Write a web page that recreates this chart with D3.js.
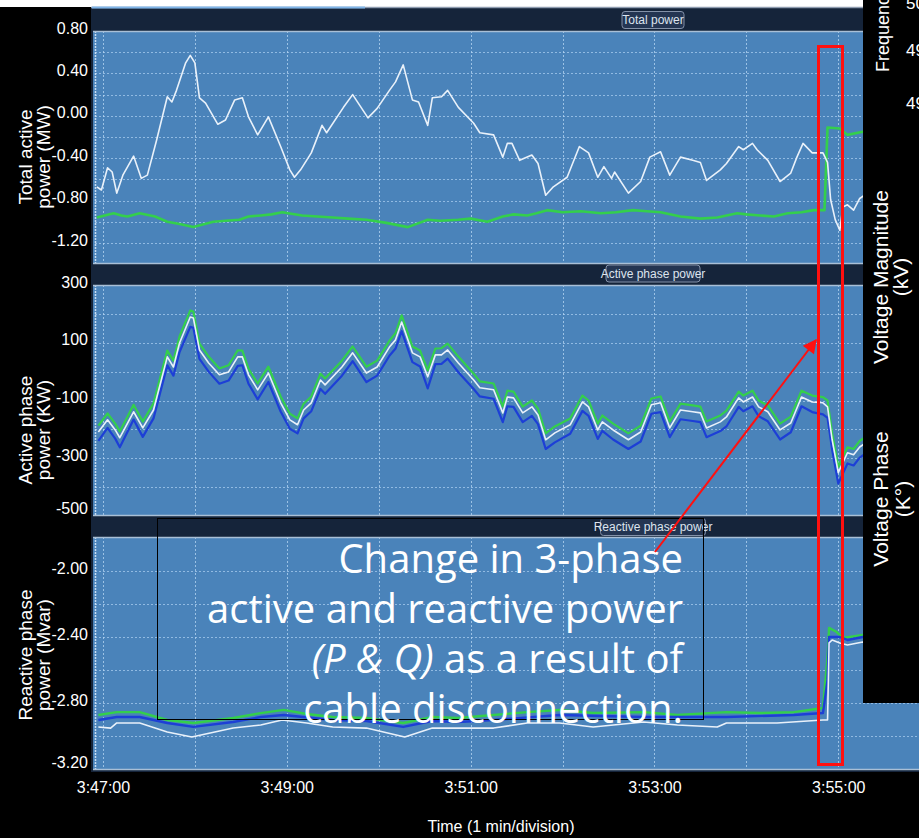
<!DOCTYPE html>
<html><head><meta charset="utf-8">
<script src="https://cdn.jsdelivr.net/npm/d3@7"></script>
<style>body{margin:0;background:#000}svg{display:block}</style>
</head><body>
<svg id="c" width="919" height="838"></svg>
<script>
// ---------------- DATA (time in seconds after 3:47:00) ----------------
const timeTickLabels = ["3:47:00","3:49:00","3:51:00","3:53:00","3:55:00"];
const gridMinutes = [0,1,2,3,4,5,6,7,8];

const totalTicks = [0.8,0.4,0,-0.4,-0.8,-1.2];
const activeTicks = [300,100,-100,-300,-500];
const reactiveTicks = [-2.0,-2.4,-2.8,-3.2];

// Total active power (MW)
const totalWhite = [[-4,-0.67],[-1,-0.70],[3,-0.49],[6,-0.53],[9,-0.73],[13,-0.56],[20,-0.38],[25,-0.59],[29,-0.56],[35,-0.23],
 [42,0.18],[45,0.13],[48,0.24],[54,0.50],[57,0.57],[60,0.50],[63,0.17],[67,0.12],[75,-0.08],[80,-0.04],
 [86,0.15],[91,0.17],[95,-0.01],[101,-0.18],[108,-0.01],[116,-0.29],[122,-0.51],[125,-0.58],[129,-0.51],[136,-0.35],
 [143,-0.09],[146,-0.16],[157,0.08],[163,0.20],[173,-0.02],[179,0.07],[187,0.24],[191,0.32],[196,0.48],[202,0.15],
 [206,0.13],[212,-0.09],[215,0.17],[221,0.18],[225,0.24],[232,0.08],[242,-0.07],[246,-0.16],[255,-0.18],[261,-0.39],
 [264,-0.26],[267,-0.26],[272,-0.42],[280,-0.37],[284,-0.45],[289,-0.75],[294,-0.67],[303,-0.58],[311,-0.29],[317,-0.35],
 [323,-0.58],[327,-0.48],[332,-0.59],[334,-0.53],[343,-0.73],[351,-0.62],[357,-0.39],[364,-0.34],[370,-0.56],[377,-0.39],
 [385,-0.42],[390,-0.44],[394,-0.61],[403,-0.51],[407,-0.45],[415,-0.29],[418,-0.32],[424,-0.26],[427,-0.32],[434,-0.42],
 [442,-0.62],[449,-0.54],[453,-0.39],[457,-0.26],[463,-0.35],[470,-0.35],[473,-0.44],[475,-0.79],[478,-0.98],[481,-1.08],
 [483,-0.86],[486,-0.84],[490,-0.89],[494,-0.78],[500,-0.72]];
const totalGreen = [[-4,-0.96],[7,-0.92],[12,-0.94],[16,-0.95],[24,-0.92],[34,-0.95],[42,-1.00],[50,-1.02],[59,-1.05],[72,-1.00],
 [80,-0.99],[89,-0.98],[95,-0.95],[103,-0.94],[110,-0.93],[117,-0.91],[130,-0.94],[140,-0.95],[150,-0.96],[160,-0.97],
 [172,-0.98],[185,-1.01],[199,-1.05],[212,-0.98],[220,-0.99],[232,-0.98],[240,-0.97],[251,-1.00],[261,-0.95],[268,-0.93],
 [277,-0.94],[283,-0.92],[290,-0.89],[300,-0.91],[312,-0.90],[325,-0.92],[335,-0.91],[346,-0.89],[355,-0.90],[364,-0.91],
 [377,-0.95],[390,-0.97],[401,-0.96],[414,-0.92],[420,-0.93],[429,-0.94],[438,-0.95],[447,-0.92],[456,-0.91],[464,-0.89],
 [471,-0.89],[473,-0.11],[481,-0.12],[486,-0.18],[496,-0.15],[501,-0.13]];

// Active phase power (KW)
const activeWhite = [[-3,-209],[3,-167],[8,-202],[11,-229],[20,-139],[26,-195],[33,-133],[42,51],[46,16],[50,99],
 [57,189],[59,186],[63,75],[69,30],[76,-11],[82,-1],[88,51],[91,51],[95,-11],[101,-63],
 [108,-5],[116,-108],[122,-167],[127,-184],[131,-133],[136,-108],[142,-29],[145,-46],[156,16],[163,65],
 [172,-5],[179,16],[187,85],[191,110],[195,172],[202,65],[207,51],[212,-18],[217,58],[221,58],
 [225,75],[232,30],[242,-29],[246,-56],[255,-63],[261,-143],[264,-88],[268,-91],[274,-143],[280,-122],
 [284,-150],[289,-236],[295,-212],[305,-184],[313,-105],[317,-122],[323,-202],[326,-174],[333,-202],[343,-236],
 [351,-209],[358,-115],[364,-108],[370,-195],[377,-133],[385,-139],[390,-143],[394,-195],[403,-174],[407,-157],
 [415,-91],[418,-105],[424,-88],[428,-122],[434,-139],[442,-202],[449,-178],[456,-88],[463,-105],[470,-108],
 [473,-122],[476,-236],[480,-350],[486,-281],[490,-288],[494,-261],[501,-236]];
const activeGreen = [[-3,-187],[3,-145],[8,-180],[11,-207],[20,-115],[26,-173],[33,-110],[42,73],[46,38],[50,122],
 [57,212],[59,208],[63,97],[69,52],[76,11],[82,22],[88,74],[91,73],[95,10],[101,-41],
 [108,17],[116,-86],[122,-146],[127,-162],[131,-111],[136,-86],[142,-7],[145,-24],[156,38],[163,87],
 [172,17],[179,38],[187,107],[191,133],[195,195],[202,87],[207,73],[212,4],[217,80],[221,81],
 [225,97],[232,52],[242,-7],[246,-34],[255,-41],[261,-121],[264,-66],[268,-69],[274,-121],[280,-100],
 [284,-128],[289,-214],[295,-190],[305,-162],[313,-83],[317,-100],[323,-180],[326,-152],[333,-180],[343,-214],
 [351,-187],[358,-93],[364,-86],[370,-173],[377,-111],[385,-117],[390,-121],[394,-173],[403,-152],[407,-135],
 [415,-69],[418,-83],[424,-66],[428,-100],[434,-117],[442,-180],[449,-156],[456,-66],[463,-83],[470,-88],
 [473,-100],[476,-214],[480,-330],[486,-262],[490,-268],[494,-240],[501,-215]];
const activeBlue = [[-3,-240],[3,-195],[8,-232],[11,-262],[20,-166],[26,-226],[33,-162],[42,22],[46,-14],[50,68],
 [57,155],[59,152],[63,44],[69,0],[76,-42],[82,-31],[88,20],[91,22],[95,-42],[101,-96],
 [108,-36],[116,-138],[122,-198],[127,-214],[131,-162],[136,-137],[142,-60],[145,-77],[156,-14],[163,36],
 [172,-36],[179,-14],[187,55],[191,80],[195,140],[202,33],[207,18],[212,-58],[217,26],[221,27],
 [225,45],[232,-2],[242,-60],[246,-86],[255,-94],[261,-175],[264,-120],[268,-122],[274,-175],[280,-153],
 [284,-182],[289,-268],[295,-245],[305,-215],[313,-136],[317,-153],[323,-233],[326,-205],[333,-235],[343,-268],
 [351,-242],[358,-146],[364,-140],[370,-227],[377,-165],[385,-171],[390,-175],[394,-227],[403,-206],[407,-190],
 [415,-122],[418,-137],[424,-120],[428,-154],[434,-172],[442,-235],[449,-210],[456,-120],[463,-140],[470,-148],
 [473,-160],[476,-270],[480,-388],[486,-318],[490,-325],[494,-298],[501,-272]];

// Reactive phase power (Mvar)
const reactiveGreen = [[-3,-2.873],[9,-2.855],[24,-2.855],[42,-2.903],[59,-2.921],[85,-2.891],[103,-2.861],[118,-2.842],[133,-2.867],[150,-2.885],
 [172,-2.891],[196,-2.921],[215,-2.885],[232,-2.891],[255,-2.873],[277,-2.855],[298,-2.842],[320,-2.861],[353,-2.855],[375,-2.873],
 [407,-2.855],[429,-2.861],[451,-2.855],[470,-2.830],[473,-2.521],[474,-2.345],[479,-2.370],[483,-2.406],[496,-2.388],[533,-2.380]];
const reactiveBlue = [[-3,-2.903],[9,-2.885],[24,-2.885],[42,-2.921],[59,-2.945],[85,-2.915],[103,-2.885],[118,-2.873],[150,-2.903],[172,-2.909],
 [196,-2.945],[215,-2.909],[232,-2.915],[255,-2.903],[298,-2.873],[353,-2.885],[407,-2.885],[451,-2.873],[470,-2.861],[473,-2.660],
 [474,-2.400],[481,-2.400],[486,-2.418],[496,-2.400],[533,-2.394]];
const reactiveWhite = [[-3,-2.945],[5,-2.952],[9,-2.921],[24,-2.921],[42,-2.976],[58,-3.006],[85,-2.952],[103,-2.933],[117,-2.903],[133,-2.921],
 [150,-2.945],[172,-2.952],[197,-3.006],[215,-2.952],[232,-2.952],[255,-2.952],[277,-2.921],[298,-2.921],[320,-2.945],[353,-2.915],
 [375,-2.933],[401,-2.945],[407,-2.921],[440,-2.921],[470,-2.903],[473,-2.903],[474,-2.436],[476,-2.418],[481,-2.436],[486,-2.448],
 [496,-2.430],[533,-2.440]];

// ---------------- DRAWING ----------------
const W = 919, H = 838;
const svg = d3.select("#c");
const toSec = s => { const [h,m,ss] = s.split(":").map(Number); return h*3600+m*60+ss; };
const base = toSec(timeTickLabels[0]);
const tickSec = timeTickLabels.map(s => toSec(s) - base);

const x = d3.scaleLinear().domain([-6.5, 532.7]).range([93, 919]);

const WHITE = "#e9f1fa", GREEN = "#34cf4c", BLUE = "#1d3fd6";
const PLOT_BG = "#4a83ba", FRAME = "#15243a";

svg.append("rect").attr("width", W).attr("height", H).attr("fill", "#000");
svg.append("rect").attr("x", 0).attr("y", 0).attr("width", 863).attr("height", 7).attr("fill", "#fff");
svg.append("rect").attr("x", 91).attr("y", 7).attr("width", W - 91).attr("height", 765).attr("fill", FRAME);
svg.append("line").attr("x1", 91).attr("x2", 863).attr("y1", 7.5).attr("y2", 7.5).attr("stroke", "#8e9cb0").attr("stroke-width", 1.5);
svg.append("line").attr("x1", 92).attr("x2", 365).attr("y1", 7.5).attr("y2", 7.5).attr("stroke", "#7fb4e8").attr("stroke-width", 2);

const panels = [
  {id:"p1", top:31, bottom:264, domain:[-1.2,0.8], range:[243,31], ticks:totalTicks, fmt:d=>d.toFixed(2), minor:0.2,
   label:["Total active","power (MW)"], labelY:157, title:"Total power", titleY:20, titleW:62,
   series:[[totalGreen,GREEN,2.6],[totalWhite,WHITE,1.6]]},
  {id:"p2", top:285, bottom:516, domain:[-500,300], range:[516,285], ticks:activeTicks, fmt:d=>String(d), minor:100,
   label:["Active phase","power (KW)"], labelY:430, title:"Active phase power", titleY:273.5, titleW:94,
   series:[[activeGreen,GREEN,2.2],[activeBlue,BLUE,2.2],[activeWhite,WHITE,1.6]]},
  {id:"p3", top:537, bottom:770, domain:[-3.2,-2.0], range:[769,571], ticks:reactiveTicks, fmt:d=>d.toFixed(2), minor:0.2,
   label:["Reactive phase","power (Mvar)"], labelY:655, title:"Reactive phase power", titleY:527, titleW:105,
   series:[[reactiveGreen,GREEN,2.4],[reactiveBlue,BLUE,2.4],[reactiveWhite,WHITE,1.6]]}
];

const defs = svg.append("defs");

panels.forEach(p => {
  const y = d3.scaleLinear().domain(p.domain).range(p.range);
  const g = svg.append("g");
  defs.append("clipPath").attr("id", "clip-" + p.id)
    .append("rect").attr("x", 93).attr("y", p.top).attr("width", W - 93).attr("height", p.bottom - p.top);
  g.append("rect").attr("x", 93).attr("y", p.top).attr("width", W - 93).attr("height", p.bottom - p.top).attr("fill", PLOT_BG);

  // horizontal dotted grid
  const lo = p.domain[0], hi = y.invert(p.top);
  const gridVals = [];
  for (let v = lo - p.minor*3; v <= hi + 1e-9; v += p.minor) {
    const yy = y(v);
    if (yy > p.top + 2 && yy < p.bottom - 2) gridVals.push(v);
  }
  g.selectAll(".hg").data(gridVals).join("line")
    .attr("x1", 95).attr("x2", W).attr("y1", d => Math.round(y(d)) + 0.5).attr("y2", d => Math.round(y(d)) + 0.5)
    .attr("stroke", "#a9cdf0").attr("stroke-width", 1).attr("stroke-dasharray", "2,2").attr("opacity", 0.75);
  // vertical dotted grid (each minute)
  g.selectAll(".vg").data(gridMinutes).join("line")
    .attr("x1", d => Math.round(x(d*60)) + 0.5).attr("x2", d => Math.round(x(d*60)) + 0.5)
    .attr("y1", p.top).attr("y2", p.bottom)
    .attr("stroke", "#b8d7f4").attr("stroke-width", 1).attr("stroke-dasharray", "2,2").attr("opacity", 0.75);
  g.append("line").attr("x1", 95.5).attr("x2", 95.5).attr("y1", p.top).attr("y2", p.bottom)
    .attr("stroke", "#c6dcf2").attr("stroke-width", 1.5).attr("stroke-dasharray", "2,1");
  // borders
  g.append("line").attr("x1", 93).attr("x2", W).attr("y1", p.top + 0.5).attr("y2", p.top + 0.5).attr("stroke", "#a9bfd6").attr("stroke-width", 1.5);
  g.append("line").attr("x1", 93).attr("x2", W).attr("y1", p.bottom - 0.5).attr("y2", p.bottom - 0.5).attr("stroke", "#a9bfd6").attr("stroke-width", 1.5);

  // series
  const line = d3.line().x(d => x(d[0])).y(d => y(d[1]));
  const sg = g.append("g").attr("clip-path", `url(#clip-${p.id})`);
  p.series.forEach(([data, color, w]) => {
    sg.append("path").attr("d", line(data)).attr("fill", "none").attr("stroke", color)
      .attr("stroke-width", w).attr("stroke-linejoin", "round");
  });

  // y axis
  const ax = svg.append("g").attr("transform", "translate(91,0)")
    .call(d3.axisLeft(y).tickValues(p.ticks).tickFormat(p.fmt).tickSize(0).tickPadding(3));
  ax.select(".domain").remove();
  ax.selectAll("text").attr("fill", "#fff").attr("font-family", "Liberation Sans, Arial, sans-serif")
    .attr("font-size", 16).attr("dy", "0.32em")
    .attr("y", d => { const yy = y(d) - 3; const c = Math.min(yy, p.bottom - 8); return c - y(d); });

  // y label
  const lt = svg.append("text").attr("transform", `translate(0,${p.labelY}) rotate(-90)`)
    .attr("text-anchor", "middle").attr("fill", "#fff")
    .attr("font-family", "Liberation Sans, Arial, sans-serif").attr("font-size", 19);
  lt.append("tspan").attr("x", 0).attr("y", 32).text(p.label[0]);
  lt.append("tspan").attr("x", 0).attr("y", 50).text(p.label[1]);

  // title tag
  const tg = svg.append("g").attr("transform", `translate(653,${p.titleY})`);
  tg.append("rect").attr("x", -p.titleW/2).attr("y", -8.5).attr("width", p.titleW).attr("height", 17).attr("rx", 3)
    .attr("fill", "#243552").attr("stroke", "#8391a8").attr("stroke-width", 1);
  tg.append("text").attr("text-anchor", "middle").attr("dy", "0.35em").attr("fill", "#dde4ee")
    .attr("font-family", "Liberation Sans Narrow, Liberation Sans, Arial, sans-serif").attr("font-size", 12)
    .text(p.title);
});

// x axis
const xa = svg.append("g").attr("transform", "translate(0,779)")
  .call(d3.axisBottom(x).tickValues(tickSec).tickFormat((d, i) => timeTickLabels[i]).tickSize(0));
xa.select(".domain").remove();
xa.selectAll("text").attr("fill", "#fff").attr("font-family", "Liberation Sans, Arial, sans-serif").attr("font-size", 16);
svg.append("text").attr("x", 501).attr("y", 832).attr("text-anchor", "middle").attr("fill", "#fff")
  .attr("font-family", "Liberation Sans, Arial, sans-serif").attr("font-size", 16).text("Time (1 min/division)");

// right black panel (neighbouring charts)
svg.append("rect").attr("x", 863).attr("y", 0).attr("width", W - 863).attr("height", 703).attr("fill", "#000");
const rf = "Liberation Sans, Arial, sans-serif";
svg.append("text").attr("transform", "translate(889,72) rotate(-90)").attr("fill", "#fff").attr("font-family", rf).attr("font-size", 18).text("Frequency (Hz)");
[["50",3],["49",50],["49",103]].forEach(([t, yy]) => {
  svg.append("text").attr("x", 906).attr("y", yy).attr("dy", "0.35em").attr("fill", "#fff").attr("font-family", rf).attr("font-size", 17).text(t);
});
const vm = svg.append("text").attr("transform", "translate(0,277) rotate(-90)").attr("text-anchor", "middle").attr("fill", "#fff").attr("font-family", rf).attr("font-size", 21);
vm.append("tspan").attr("x", 0).attr("y", 888).text("Voltage Magnitude");
vm.append("tspan").attr("x", 0).attr("y", 908).text("(kV)");
const vp = svg.append("text").attr("transform", "translate(0,499) rotate(-90)").attr("text-anchor", "middle").attr("fill", "#fff").attr("font-family", rf).attr("font-size", 21);
vp.append("tspan").attr("x", 0).attr("y", 888).text("Voltage Phase");
vp.append("tspan").attr("x", 0).attr("y", 910).text("(K°)");

// annotation box
svg.append("rect").attr("x", 157.5).attr("y", 518.5).attr("width", 546).attr("height", 201).attr("fill", "none").attr("stroke", "#000").attr("stroke-width", 1);
const af = "Open Sans, Lato, sans-serif";
const ann = svg.append("g").attr("fill", "#fff").attr("font-family", af).attr("font-size", 40).attr("text-anchor", "end");
ann.append("text").attr("x", 683).attr("y", 573).text("Change in 3-phase");
ann.append("text").attr("x", 683).attr("y", 623).text("active and reactive power");
const l3 = ann.append("text").attr("x", 683).attr("y", 673);
l3.append("tspan").attr("font-style", "italic").text("(P & Q)");
l3.append("tspan").text(" as a result of");
ann.append("text").attr("x", 683).attr("y", 723).text("cable disconnection.");

// red highlight + arrow
svg.append("rect").attr("x", 818.5).attr("y", 46.5).attr("width", 24).attr("height", 718).attr("fill", "none").attr("stroke", "#ff1010").attr("stroke-width", 3);
defs.append("marker").attr("id", "ah").attr("viewBox", "0 0 10 10").attr("refX", 9).attr("refY", 5)
  .attr("markerWidth", 8).attr("markerHeight", 7).attr("markerUnits", "strokeWidth").attr("orient", "auto")
  .append("path").attr("d", "M0,0 L10,5 L0,10 z").attr("fill", "#ff1010");
svg.append("line").attr("x1", 655).attr("y1", 552).attr("x2", 816).attr("y2", 340)
  .attr("stroke", "#ff1010").attr("stroke-width", 2).attr("marker-end", "url(#ah)");
</script>
</body></html>
